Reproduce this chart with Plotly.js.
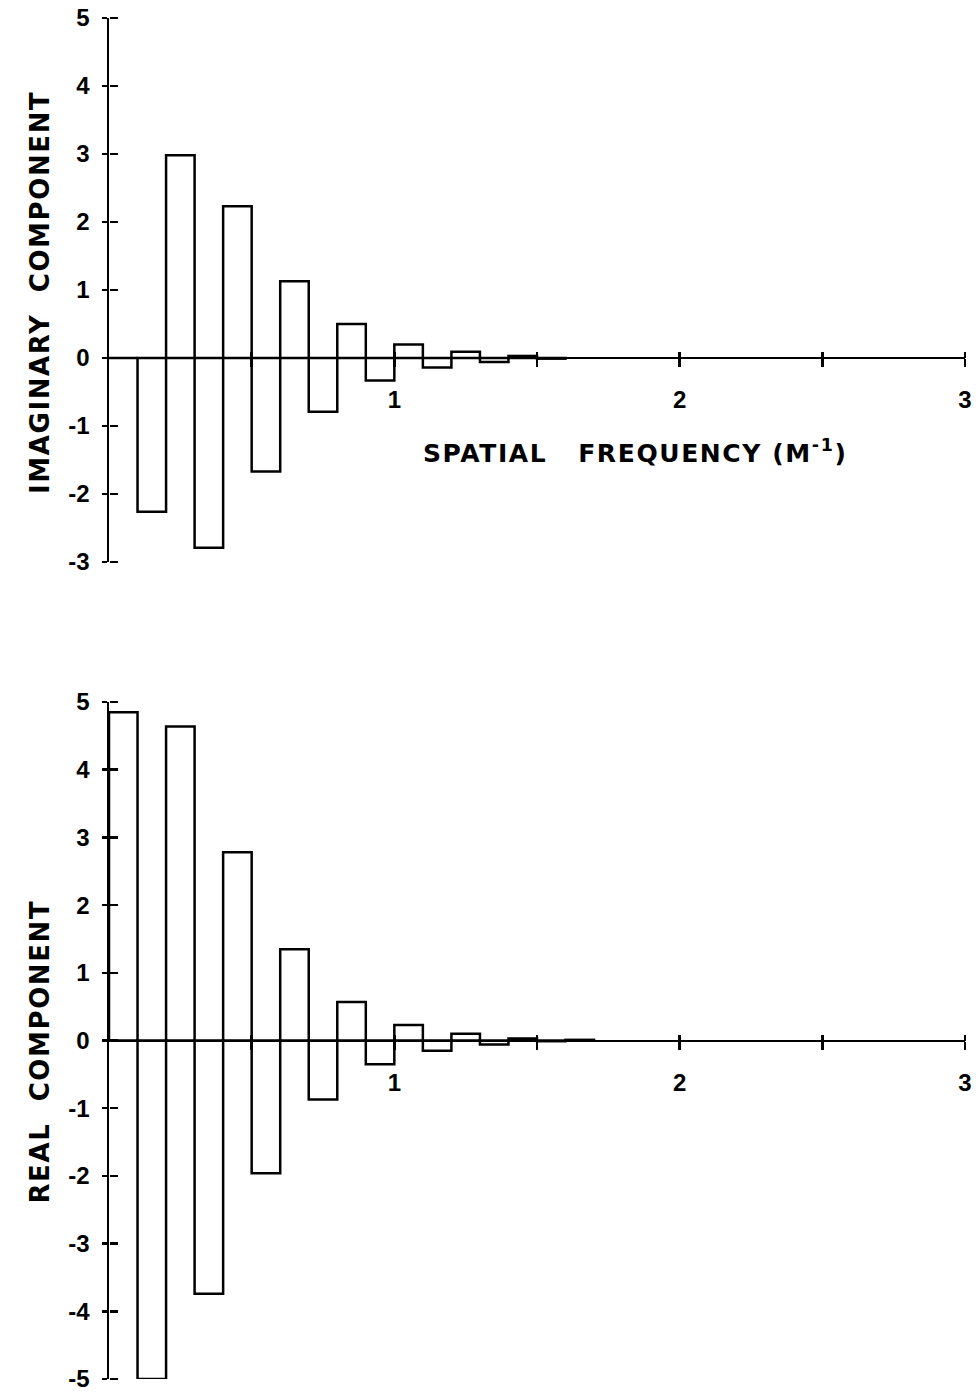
<!DOCTYPE html>
<html>
<head>
<meta charset="utf-8">
<script src="https://cdn.plot.ly/plotly-3.0.1.min.js"></script>
<style>
html,body{margin:0;padding:0;background:#fff;}
#chart{width:980px;height:1393px;}
.annotation-text{letter-spacing:1.6px;}
</style>
</head>
<body>
<div id="chart"></div>
<script>
// Spatial frequency bin centres (M^-1), bin width 0.1
const freqImag = [0.05, 0.15, 0.25, 0.35, 0.45, 0.55, 0.65, 0.75, 0.85, 0.95, 1.05, 1.15, 1.25, 1.35, 1.45, 1.55];
const imagComponent = [0, -2.26, 2.98, -2.79, 2.23, -1.67, 1.13, -0.79, 0.50, -0.33, 0.20, -0.14, 0.09, -0.06, 0.03, -0.01];

const freqReal = [0.05, 0.15, 0.25, 0.35, 0.45, 0.55, 0.65, 0.75, 0.85, 0.95, 1.05, 1.15, 1.25, 1.35, 1.45, 1.55, 1.65];
const realComponent = [4.85, -5.0, 4.64, -3.74, 2.78, -1.96, 1.35, -0.87, 0.57, -0.35, 0.23, -0.15, 0.10, -0.06, 0.03, -0.01, 0.01];

const binWidth = 0.1;
const xTickVals = [1, 2, 3];
const xTickText = ['1', '2', '3'];
const xMinorVals = [0.5, 1.5, 2.5];
const xAllTicks = [0.5, 1, 1.5, 2, 2.5, 3];
const yTickImag = [-3, -2, -1, 0, 1, 2, 3, 4, 5];
const yTickImagText = ['-3', '-2', '-1', '0', '1', '2', '3', '4', '5'];
const yTickReal = [-5, -4, -3, -2, -1, 0, 1, 2, 3, 4, 5];
const yTickRealText = ['-5', '-4', '-3', '-2', '-1', '0', '1', '2', '3', '4', '5'];
const rangeImag = [-3, 5];
const rangeReal = [-5, 5];
const rangeX = [0, 3];

const TICKFONT = 'Liberation Sans, Arial, Helvetica, sans-serif';
const TITLEFONT = 'DejaVu Sans, Verdana, sans-serif';
const LW = 2.5;

const domImag = [0.6003, 1.0];
const domReal = [0.0, 0.4974];
function zeroPos(dom, rng) {
  return dom[0] + (0 - rng[0]) / (rng[1] - rng[0]) * (dom[1] - dom[0]);
}
const zImag = zeroPos(domImag, rangeImag);
const zReal = zeroPos(domReal, rangeReal);

const barStyle = {
  color: 'rgba(0,0,0,0)',
  line: {color: '#000', width: LW}
};

const traces = [
  {type: 'bar', x: freqImag, y: imagComponent, width: binWidth, marker: barStyle,
   xaxis: 'x', yaxis: 'y', hoverinfo: 'skip', showlegend: false},
  {type: 'bar', x: freqReal, y: realComponent, width: binWidth, marker: barStyle,
   xaxis: 'x2', yaxis: 'y2', hoverinfo: 'skip', showlegend: false},
  // empty helper traces so the overlay tick axes (for crossing ticks) are drawn
  {type: 'scatter', x: [], y: [], xaxis: 'x3', yaxis: 'y3', showlegend: false, hoverinfo: 'skip'},
  {type: 'scatter', x: [], y: [], xaxis: 'x4', yaxis: 'y4', showlegend: false, hoverinfo: 'skip'}
];

const tickFont = {family: TICKFONT, size: 24, color: '#000', weight: 'bold'};

function xMain(pos) {
  return {
    range: rangeX, domain: [0, 1], anchor: 'free', position: pos,
    showline: true, linecolor: '#000', linewidth: LW,
    ticks: 'outside', ticklen: 8, tickwidth: LW, tickcolor: '#000',
    tickmode: 'array', tickvals: xTickVals, ticktext: xTickText,
    minor: {tickmode: 'array', tickvals: xMinorVals, ticks: 'outside', ticklen: 8, tickwidth: LW, tickcolor: '#000', showgrid: false},
    tickfont: tickFont, ticklabelstandoff: 12, ticklabeloverflow: 'allow',
    showgrid: false, zeroline: false, fixedrange: true
  };
}
function xOver(over, pos) {
  return {
    range: rangeX, domain: [0, 1], anchor: 'free', position: pos, overlaying: over, side: 'top',
    showline: false, ticks: 'outside', ticklen: 6, tickwidth: LW, tickcolor: '#000',
    tickmode: 'array', tickvals: xAllTicks, showticklabels: false,
    showgrid: false, zeroline: false, fixedrange: true
  };
}
function yMain(dom, rng, vals, text, anchor) {
  return {
    range: rng, domain: dom, anchor: anchor,
    showline: true, linecolor: '#000', linewidth: LW,
    ticks: 'outside', ticklen: 5, tickwidth: LW, tickcolor: '#000',
    tickmode: 'array', tickvals: vals, ticktext: text, tickfont: tickFont, ticklabelstandoff: 7,
    ticklabeloverflow: 'allow',
    showgrid: false, zeroline: false, fixedrange: true
  };
}
function yOver(over, dom, rng, vals) {
  return {
    range: rng, domain: dom, anchor: 'free', position: 0, overlaying: over, side: 'right',
    showline: false, ticks: 'outside', ticklen: 8, tickwidth: LW, tickcolor: '#000',
    tickmode: 'array', tickvals: vals, showticklabels: false,
    showgrid: false, zeroline: false, fixedrange: true
  };
}

const yTitleFont = {family: TITLEFONT, size: 26, color: '#000', weight: 'bold'};
const xTitleFont = {family: TITLEFONT, size: 25, color: '#000', weight: 'bold'};

const layout = {
  width: 980, height: 1393,
  margin: {l: 109, r: 15, t: 18, b: 14},
  paper_bgcolor: '#fff', plot_bgcolor: '#fff',
  showlegend: false, bargap: 0,
  xaxis: xMain(zImag),
  yaxis: yMain(domImag, rangeImag, yTickImag, yTickImagText, 'x'),
  xaxis2: xMain(zReal),
  yaxis2: yMain(domReal, rangeReal, yTickReal, yTickRealText, 'x2'),
  xaxis3: xOver('x', zImag),
  yaxis3: yOver('y', domImag, rangeImag, yTickImag),
  xaxis4: xOver('x2', zReal),
  yaxis4: yOver('y2', domReal, rangeReal, yTickReal),
  annotations: [
    {text: 'IMAGINARY\u00a0\u00a0COMPONENT', textangle: -90, font: yTitleFont,
     xref: 'paper', yref: 'paper', x: 0, y: (domImag[0] + domImag[1]) / 2,
     xanchor: 'center', yanchor: 'middle', xshift: -69, yshift: -3, showarrow: false},
    {text: 'REAL\u00a0\u00a0COMPONENT', textangle: -90, font: yTitleFont,
     xref: 'paper', yref: 'paper', x: 0, y: (domReal[0] + domReal[1]) / 2,
     xanchor: 'center', yanchor: 'middle', xshift: -69, yshift: -11, showarrow: false},
    {text: 'SPATIAL\u00a0\u00a0\u00a0FREQUENCY\u00a0(M<sup>-1</sup>)', font: xTitleFont,
     xref: 'x', yref: 'y', x: 1.844, y: -1.38, xanchor: 'center', yanchor: 'middle',
     showarrow: false}
  ]
};

Plotly.newPlot('chart', traces, layout, {staticPlot: true, displayModeBar: false});
</script>
</body>
</html>
